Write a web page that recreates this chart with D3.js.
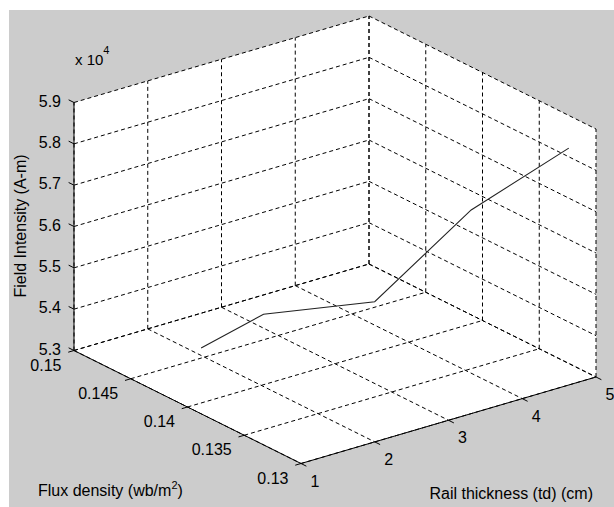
<!DOCTYPE html>
<html>
<head>
<meta charset="utf-8">
<script src="https://cdn.jsdelivr.net/npm/d3@7"></script>
<style>
  html, body { margin: 0; padding: 0; background: #ffffff; }
  svg { display: block; }
  text { font-family: "Liberation Sans", Arial, Helvetica, sans-serif; fill: #000; }
</style>
</head>
<body>
<svg id="chart" width="614" height="507"></svg>
<script>
// Measured series: field intensity versus rail thickness and flux density
const railThickness  = [1, 2, 3, 4, 5];                          // cm
const fluxDensity    = [0.1388, 0.1398, 0.1365, 0.1345, 0.1324];  // wb/m^2
const fieldIntensity = [54590, 54750, 54980, 56950, 58210];       // A-m

// Axis ticks and their labels
const xTicks = [1, 2, 3, 4, 5];
const xTickLabels = ["1", "2", "3", "4", "5"];
const yTicks = [0.13, 0.135, 0.14, 0.145, 0.15];
const yTickLabels = ["0.13", "0.135", "0.14", "0.145", "0.15"];
const zTicks = [53000, 54000, 55000, 56000, 57000, 58000, 59000];
const zTickLabels = ["5.3", "5.4", "5.5", "5.6", "5.7", "5.8", "5.9"];

const svg = d3.select("#chart");

// Figure background
svg.append("rect")
  .attr("x", 9).attr("y", 10).attr("width", 605).attr("height", 497)
  .attr("fill", "#cccccc");

// Normalised position along each axis of the box
const sx = d3.scaleLinear().domain([1, 5]).range([0, 1]);
const sy = d3.scaleLinear().domain([0.15, 0.13]).range([0, 1]);
const sz = d3.scaleLinear().domain([53000, 59000]).range([0, 1]);

// Orthographic view: screen position of the box corner and axis directions
const origin = [74, 350.5];
const ex = [295, -86.5];
const ey = [227, 113];
const ez = [0, -248];

function proj(x, y, z) {
  const u = sx(x), v = sy(y), w = sz(z);
  return [origin[0] + u * ex[0] + v * ey[0] + w * ez[0],
          origin[1] + u * ex[1] + v * ey[1] + w * ez[1]];
}

const [x0, x1] = sx.domain();
const [y0, y1] = sy.domain();   // y0 = 0.15 (back), y1 = 0.13 (front)
const [z0, z1] = sz.domain();

const line = d3.line();

// Box walls: back wall (y = 0.15), right wall (x = 5), floor (z = min)
const walls = [
  [proj(x0, y0, z0), proj(x1, y0, z0), proj(x1, y0, z1), proj(x0, y0, z1)],
  [proj(x1, y0, z0), proj(x1, y1, z0), proj(x1, y1, z1), proj(x1, y0, z1)],
  [proj(x0, y0, z0), proj(x0, y1, z0), proj(x1, y1, z0), proj(x1, y0, z0)]
];
svg.append("g").selectAll("path").data(walls).join("path")
  .attr("d", d => line(d) + "Z")
  .attr("fill", "#ffffff").attr("stroke", "none");

// Dashed grid on the walls and floor
const grid = [];
xTicks.forEach(x => {
  grid.push([proj(x, y0, z0), proj(x, y1, z0)]);   // floor
  grid.push([proj(x, y0, z0), proj(x, y0, z1)]);   // back wall
});
yTicks.forEach(y => {
  grid.push([proj(x0, y, z0), proj(x1, y, z0)]);   // floor
  grid.push([proj(x1, y, z0), proj(x1, y, z1)]);   // right wall
});
zTicks.forEach(z => {
  grid.push([proj(x0, y0, z), proj(x1, y0, z)]);   // back wall
  grid.push([proj(x1, y0, z), proj(x1, y1, z)]);   // right wall
});
svg.append("g").selectAll("path").data(grid).join("path")
  .attr("d", d => line(d))
  .attr("fill", "none").attr("stroke", "#000")
  .attr("stroke-width", 1).attr("stroke-dasharray", "4,3");

// Solid axis lines
const axes = [
  [proj(x0, y0, z0), proj(x0, y0, z1)],  // z axis
  [proj(x0, y0, z0), proj(x0, y1, z0)],  // y axis
  [proj(x0, y1, z0), proj(x1, y1, z0)]   // x axis
];
svg.append("g").selectAll("path").data(axes).join("path")
  .attr("d", d => line(d))
  .attr("fill", "none").attr("stroke", "#000").attr("stroke-width", 1);

// Tick marks
function unit(v, len) {
  const n = Math.hypot(v[0], v[1]);
  return [v[0] / n * len, v[1] / n * len];
}
const tz = unit([-ey[0], -ey[1]], 6);
const ty = unit([-ex[0], -ex[1]], 6);
const tx = unit(ey, 6);
const ticks = [];
zTicks.forEach(z => { const p = proj(x0, y0, z); ticks.push([p, [p[0] + tz[0], p[1] + tz[1]]]); });
yTicks.forEach(y => { const p = proj(x0, y, z0); ticks.push([p, [p[0] + ty[0], p[1] + ty[1]]]); });
xTicks.forEach(x => { const p = proj(x, y1, z0); ticks.push([p, [p[0] + tx[0], p[1] + tx[1]]]); });
svg.append("g").selectAll("path").data(ticks).join("path")
  .attr("d", d => line(d))
  .attr("fill", "none").attr("stroke", "#000").attr("stroke-width", 1);

// Data line
const pts = railThickness.map((t, i) => proj(t, fluxDensity[i], fieldIntensity[i]));
svg.append("path")
  .attr("d", line(pts))
  .attr("fill", "none").attr("stroke", "#222").attr("stroke-width", 1.1);

// Tick labels
const fs = 16;
svg.append("g").selectAll("text").data(zTicks).join("text")
  .attr("x", z => proj(x0, y0, z)[0] - 13)
  .attr("y", z => proj(x0, y0, z)[1] + 4)
  .attr("text-anchor", "end").attr("font-size", fs)
  .text((z, i) => zTickLabels[i]);

svg.append("g").selectAll("text").data(yTicks).join("text")
  .attr("x", y => proj(x0, y, z0)[0] - 12.5)
  .attr("y", y => proj(x0, y, z0)[1] + 20)
  .attr("text-anchor", "end").attr("font-size", fs)
  .text((y, i) => yTickLabels[i]);

svg.append("g").selectAll("text").data(xTicks).join("text")
  .attr("x", x => proj(x, y1, z0)[0] + 14)
  .attr("y", x => proj(x, y1, z0)[1] + 23)
  .attr("text-anchor", "middle").attr("font-size", fs)
  .text((x, i) => xTickLabels[i]);

// Exponent note for the z axis
const expo = svg.append("text").attr("x", 75).attr("y", 65).attr("font-size", 15);
expo.append("tspan").text("x 10");
expo.append("tspan").attr("dy", -11).attr("font-size", 11).text("4");

// Axis titles
svg.append("text")
  .attr("transform", "translate(26,226) rotate(-90)")
  .attr("text-anchor", "middle").attr("font-size", fs)
  .text("Field Intensity (A-m)");

const fx = svg.append("text").attr("x", 38).attr("y", 496).attr("font-size", fs);
fx.append("tspan").text("Flux density (wb/m");
fx.append("tspan").attr("dy", -7).attr("font-size", 11).text("2");
fx.append("tspan").attr("dy", 7).text(")");

svg.append("text")
  .attr("x", 593).attr("y", 499)
  .attr("text-anchor", "end").attr("font-size", fs)
  .text("Rail thickness (td) (cm)");
</script>
</body>
</html>
